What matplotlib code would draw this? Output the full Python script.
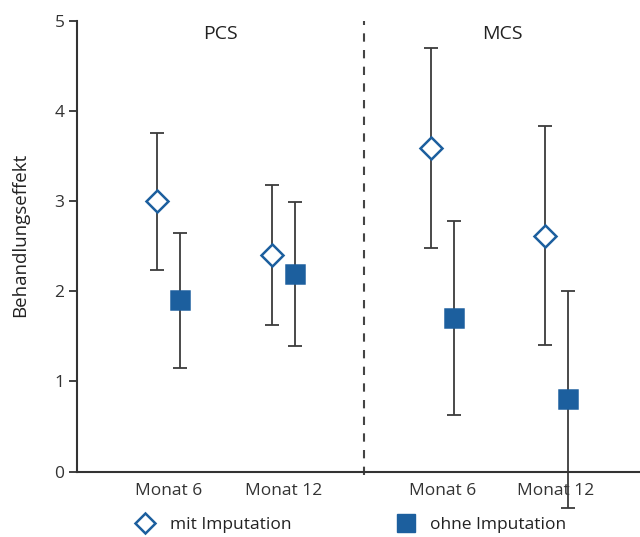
import matplotlib
matplotlib.use("Agg")
import matplotlib.pyplot as plt
from matplotlib.lines import Line2D

plt.rcParams['font.family'] = ['Open Sans', 'DejaVu Sans']

groups = ["PCS", "MCS"]
tick_labels = ["Monat 6", "Monat 12", "Monat 6", "Monat 12"]
series = ["mit Imputation", "ohne Imputation"]

mit_values = [3.00, 2.40, 3.59, 2.61]
mit_low = [2.24, 1.63, 2.48, 1.40]
mit_high = [3.76, 3.18, 4.70, 3.83]

ohne_values = [1.90, 2.19, 1.70, 0.80]
ohne_low = [1.15, 1.39, 0.63, -0.40]
ohne_high = [2.65, 2.99, 2.78, 2.00]

xpos = [1.0, 2.0, 3.38, 4.37]
offset = 0.1
blue = "#1c5f9e"
gray = "#3c3c3c"

fig = plt.figure(figsize=(6.4, 5.37), dpi=100)
ax = fig.add_axes([77/640, 1-471.5/537, 1-77/640, (471.5-21)/537])

def draw(vals, lo, hi, dx, marker, face, ms):
    xs = [x + dx for x in xpos]
    yerr = [[v - l for v, l in zip(vals, lo)], [h - v for v, h in zip(vals, hi)]]
    eb = ax.errorbar(xs, vals, yerr=yerr, fmt='none', ecolor=gray, elinewidth=1.3,
                     capsize=5, capthick=1.3, zorder=2)
    for art in eb.get_children():
        art.set_clip_on(False)
    ax.plot(xs, vals, linestyle='none', marker=marker, markersize=ms,
            markerfacecolor=face, markeredgecolor=blue, markeredgewidth=1.8,
            zorder=3, clip_on=False)

draw(mit_values, mit_low, mit_high, -offset, 'D', 'white', 11.5)
draw(ohne_values, ohne_low, ohne_high, offset, 's', blue, 12.5)

ax.set_xlim(0.2, 5.1)
ax.set_ylim(0, 5)
ax.set_yticks([0, 1, 2, 3, 4, 5])
ax.set_xticks(xpos)
ax.set_xticklabels(tick_labels)
ax.tick_params(axis='x', length=0, pad=8, labelsize=12.5, colors='#333333')
ax.tick_params(axis='y', length=6, width=1.3, pad=3, labelsize=12.5, colors='#333333')
for s in ['top', 'right']:
    ax.spines[s].set_visible(False)
for s in ['left', 'bottom']:
    ax.spines[s].set_linewidth(1.5)
    ax.spines[s].set_color('#333333')

divider = 2.70
ax.plot([divider, divider], [-0.04, 5], linestyle=(0, (4, 4)), color='#444444',
        linewidth=1.5, clip_on=False)

ax.text((xpos[0] + xpos[1]) / 2 - 0.05, 4.96, groups[0], ha='center', va='top', fontsize=14, color='#222222')
ax.text((xpos[2] + xpos[3]) / 2 + 0.03, 4.96, groups[1], ha='center', va='top', fontsize=14, color='#222222')

ax.set_ylabel("Behandlungseffekt", fontsize=13.5, color='#222222')
ax.yaxis.set_label_coords(-0.085, 0.525)

handles = [Line2D([], [], linestyle='none', marker='D', markersize=10.5, markerfacecolor='white',
                  markeredgecolor=blue, markeredgewidth=1.8),
           Line2D([], [], linestyle='none', marker='s', markersize=12.5, markerfacecolor=blue,
                  markeredgecolor=blue)]
fig.legend(handles, series, loc='center', bbox_to_anchor=(347/640, 1-525/537), ncol=2,
           frameon=False, fontsize=12.5, columnspacing=5.6, handletextpad=0.4,
           labelcolor='#222222')

fig.savefig("out.png", dpi=100)
